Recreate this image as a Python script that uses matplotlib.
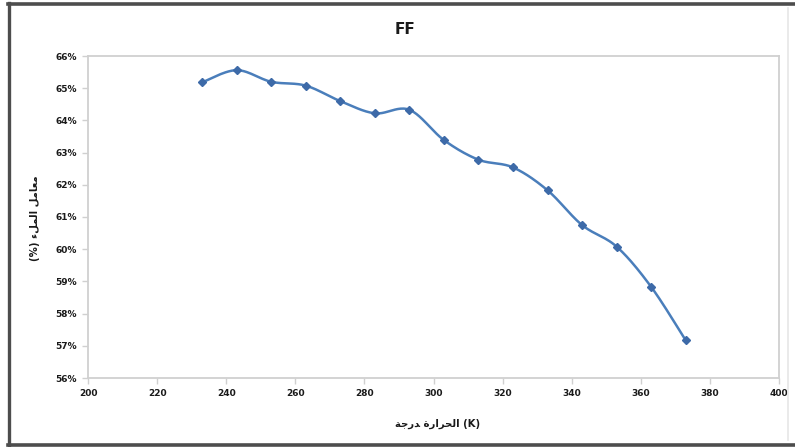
import numpy as np
import matplotlib
matplotlib.use("Agg")
import matplotlib.pyplot as plt
from matplotlib.lines import Line2D
from matplotlib.ticker import FuncFormatter

# Fill factor versus temperature
temperature_k = [233, 243, 253, 263, 273, 283, 293, 303, 313, 323, 333, 343, 353, 363, 373]
fill_factor_pct = [65.18, 65.56, 65.20, 65.08, 64.60, 64.22, 64.33, 63.39, 62.78,
                   62.54, 61.83, 60.75, 60.08, 58.83, 57.17]

x_ticks = [200, 220, 240, 260, 280, 300, 320, 340, 360, 380, 400]
y_ticks = [56, 57, 58, 59, 60, 61, 62, 63, 64, 65, 66]

title_text = "FF"
# Arabic labels written in shaped presentation forms, visual order
x_label = "\uFE94\uFE9F\uFEAD\uFEAA \uFE93\uFEAD\uFE8D\uFEAE\uFEA4\uFEDF\uFE8D (K)"
y_label = "(%) \uFE80\uFEDE\uFEE4\uFEDF\uFE8D \uFEDE\uFEE3\uFE8E\uFECC\uFEE3"

line_color = "#4a7ebb"
marker_color = "#3d6aa8"
axis_gray = "#d0d0d0"
text_color = "#1a1a1a"


def smooth_curve(xs, ys, n=24):
    """Catmull-Rom style smoothing through every data point."""
    xs = np.asarray(xs, float)
    ys = np.asarray(ys, float)
    px = np.concatenate([[xs[0]], xs, [xs[-1]]])
    py = np.concatenate([[ys[0]], ys, [ys[-1]]])
    out_x, out_y = [], []
    for i in range(1, len(px) - 2):
        p0x, p1x, p2x, p3x = px[i - 1], px[i], px[i + 1], px[i + 2]
        p0y, p1y, p2y, p3y = py[i - 1], py[i], py[i + 1], py[i + 2]
        c1x = p1x + (p2x - p0x) / 6.0
        c1y = p1y + (p2y - p0y) / 6.0
        c2x = p2x - (p3x - p1x) / 6.0
        c2y = p2y - (p3y - p1y) / 6.0
        t = np.linspace(0, 1, n, endpoint=(i == len(px) - 3))
        b0 = (1 - t) ** 3
        b1 = 3 * (1 - t) ** 2 * t
        b2 = 3 * (1 - t) * t ** 2
        b3 = t ** 3
        out_x.append(b0 * p1x + b1 * c1x + b2 * c2x + b3 * p2x)
        out_y.append(b0 * p1y + b1 * c1y + b2 * c2y + b3 * p2y)
    return np.concatenate(out_x), np.concatenate(out_y)


fig = plt.figure(figsize=(7.95, 4.47), dpi=100)
fig.patch.set_facecolor("white")

W, H = 795.0, 447.0
ax = fig.add_axes([88 / W, 1 - 378 / H, (779 - 88) / W, (378 - 56) / H])

sx, sy = smooth_curve(temperature_k, fill_factor_pct)
ax.plot(sx, sy, color=line_color, lw=1.8, solid_capstyle="round", zorder=2)
ax.plot(temperature_k, fill_factor_pct, linestyle="none", marker="D",
        markersize=4.0, color=marker_color, markeredgecolor=marker_color, zorder=3)

ax.set_xlim(200, 400)
ax.set_ylim(56, 66)
ax.set_xticks(x_ticks)
ax.set_yticks(y_ticks)
ax.yaxis.set_major_formatter(FuncFormatter(lambda v, _: f"{int(round(v))}%"))

for side in ["left", "right", "top", "bottom"]:
    ax.spines[side].set_color(axis_gray)
    ax.spines[side].set_linewidth(1.3)

ax.tick_params(axis="both", direction="out", length=4, width=1, color=axis_gray,
               labelsize=6.5, labelcolor=text_color, pad=4)
for lbl in ax.get_xticklabels() + ax.get_yticklabels():
    lbl.set_fontweight("bold")

# Title and axis titles
fig.text(405 / W, 1 - 30 / H, title_text, ha="center", va="center",
         fontsize=11, fontweight="bold", color=text_color)
fig.text(438 / W, 1 - 424 / H, x_label, ha="center", va="center",
         fontsize=7.3, fontweight="bold", color=text_color, family="DejaVu Sans")
fig.text(35 / W, 1 - 218 / H, y_label, ha="center", va="center", rotation=90,
         fontsize=7.3, fontweight="bold", color=text_color, family="DejaVu Sans")

# Chart-area frame
dark = "#4d4d4d"
fig.add_artist(Line2D([9 / W, 9 / W], [1 - 445 / H, 1 - 3 / H], color=dark, lw=2.4,
                      transform=fig.transFigure))
fig.add_artist(Line2D([8 / W, 1.0], [1 - 3.5 / H, 1 - 3.5 / H], color=dark, lw=2.6,
                      transform=fig.transFigure))
fig.add_artist(Line2D([8 / W, 1.0], [1 - 444.5 / H, 1 - 444.5 / H], color=dark, lw=2.6,
                      transform=fig.transFigure))
fig.add_artist(Line2D([788 / W, 788 / W], [1 - 440 / H, 1 - 8 / H], color="#e6e6e6", lw=1.2,
                      transform=fig.transFigure))

fig.savefig("out.png", dpi=100, facecolor="white")
